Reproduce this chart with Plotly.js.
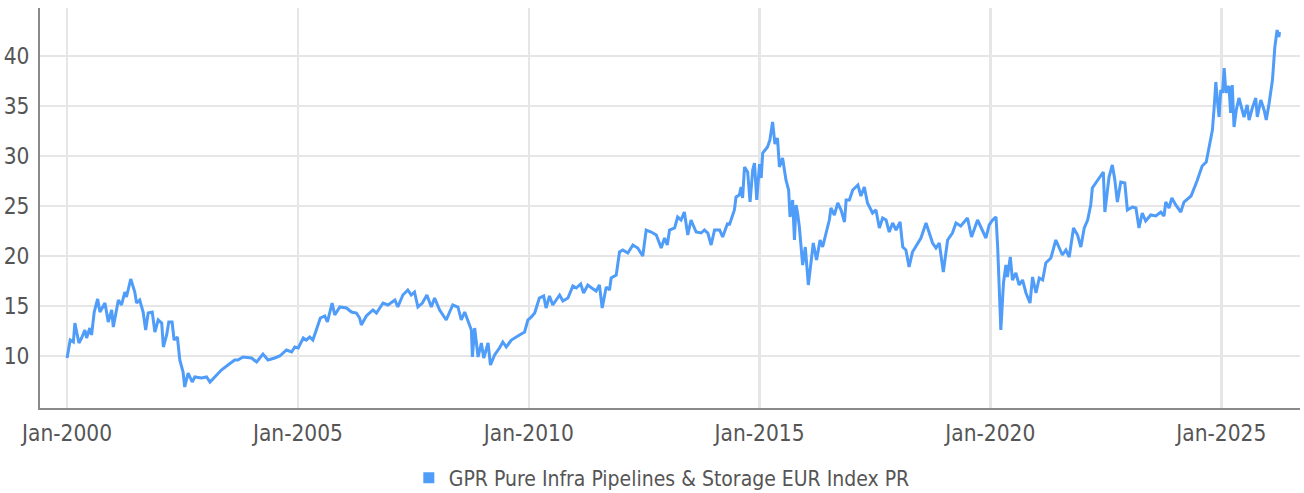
<!DOCTYPE html>
<html>
<head>
<meta charset="utf-8">
<script src="https://cdn.plot.ly/plotly-3.0.1.min.js"></script>
<style>
html,body{margin:0;padding:0;background:#fff;}
#chart{width:1304px;height:493px;}
</style>
</head>
<body>
<div id="chart"></div>
<script>
const seriesName = "GPR Pure Infra Pipelines & Storage EUR Index PR";

const dates = [
"2000-01-01","2000-01-26","2000-02-20","2000-03-03","2000-04-04","2000-04-25","2000-05-21","2000-06-04","2000-06-29","2000-07-13",
"2000-08-03","2000-08-30","2000-09-17","2000-10-27","2000-11-22","2000-12-19","2001-01-01","2001-01-15","2001-02-10","2001-03-07",
"2001-04-02","2001-04-15","2001-05-19","2001-06-20","2001-07-04","2001-07-29","2001-08-25","2001-09-14","2001-10-04","2001-11-05",
"2001-11-26","2001-12-22","2002-01-19","2002-02-01","2002-02-27","2002-03-16","2002-04-11","2002-04-27","2002-05-23","2002-06-11",
"2002-07-07","2002-07-20","2002-08-16","2002-09-17","2002-10-08","2002-11-30","2003-01-09","2003-02-05","2003-03-14","2003-05-06",
"2003-06-27","2003-08-19","2003-09-13","2003-10-24","2003-12-30","2004-02-09","2004-03-30","2004-05-09","2004-07-01","2004-08-10",
"2004-10-02","2004-11-12","2004-12-07","2005-01-03","2005-02-12","2005-03-08","2005-04-04","2005-04-29","2005-05-26","2005-06-27",
"2005-08-01","2005-08-22","2005-09-28","2005-10-19","2005-11-28","2006-01-20","2006-02-28","2006-04-08","2006-05-04","2006-05-17",
"2006-06-26","2006-08-17","2006-09-14","2006-11-05","2006-12-14","2007-02-07","2007-03-02","2007-04-11","2007-05-20","2007-06-16",
"2007-07-12","2007-08-08","2007-09-12","2007-10-18","2007-11-22","2007-12-18","2008-01-27","2008-03-19","2008-04-15","2008-05-10",
"2008-06-20","2008-07-16","2008-08-12","2008-09-07","2008-10-04","2008-10-12","2008-10-30","2008-11-26","2008-12-22","2009-01-10",
"2009-02-13","2009-03-04","2009-04-06","2009-05-14","2009-06-10","2009-07-07","2009-08-16","2009-10-20","2009-11-29","2009-12-25",
"2010-01-22","2010-02-17","2010-03-26","2010-04-29","2010-05-18","2010-06-14","2010-07-10","2010-09-02","2010-09-28","2010-11-07",
"2010-12-16","2011-01-12","2011-02-16","2011-03-11","2011-04-13","2011-05-14","2011-06-18","2011-07-14","2011-08-05","2011-09-06",
"2011-10-02","2011-10-15","2011-11-24","2011-12-20","2012-01-15","2012-02-24","2012-04-04","2012-05-12","2012-06-21","2012-07-18",
"2012-08-27","2012-10-06","2012-11-14","2012-12-10","2013-01-01","2013-01-19","2013-02-28","2013-03-24","2013-04-20","2013-05-16",
"2013-06-12","2013-07-08","2013-08-17","2013-09-26","2013-10-22","2013-11-18","2013-12-14","2014-01-10","2014-02-19","2014-03-15",
"2014-04-24","2014-05-07","2014-06-16","2014-06-29","2014-07-25","2014-08-08","2014-08-20","2014-09-04","2014-09-29","2014-10-18",
"2014-11-08","2014-11-22","2014-12-10","2015-01-01","2015-01-14","2015-01-26","2015-03-05","2015-03-24","2015-04-14","2015-05-03",
"2015-05-23","2015-06-07","2015-07-02","2015-07-29","2015-08-19","2015-08-30","2015-09-20","2015-10-04","2015-10-17","2015-10-29",
"2015-11-12","2015-12-08","2015-12-29","2016-01-22","2016-02-13","2016-03-01","2016-03-27","2016-04-24","2016-05-14","2016-06-10",
"2016-07-06","2016-07-19","2016-08-15","2016-09-11","2016-10-07","2016-11-03","2016-11-16","2016-12-12","2017-01-07","2017-02-17",
"2017-03-13","2017-04-09","2017-05-04","2017-06-13","2017-07-10","2017-08-06","2017-09-01","2017-09-28","2017-10-23","2017-11-19",
"2017-12-16","2018-01-17","2018-02-07","2018-03-04","2018-03-29","2018-04-25","2018-06-04","2018-07-01","2018-08-10","2018-09-05",
"2018-10-01","2018-10-28","2018-11-23","2018-12-25","2019-01-28","2019-03-07","2019-04-04","2019-05-12","2019-07-04","2019-08-05",
"2019-09-22","2019-11-27","2019-12-23","2020-01-19","2020-02-15","2020-02-28","2020-03-11","2020-03-24","2020-04-14","2020-05-03",
"2020-05-15","2020-06-07","2020-06-24","2020-07-21","2020-08-16","2020-09-12","2020-10-09","2020-11-10","2020-11-30","2020-12-27",
"2021-01-22","2021-02-18","2021-03-15","2021-04-24","2021-06-02","2021-06-28","2021-07-24","2021-08-21","2021-09-16","2021-10-20",
"2021-11-21","2021-12-17","2022-01-13","2022-02-09","2022-03-05","2022-03-18","2022-04-14","2022-05-23","2022-06-13","2022-06-25",
"2022-07-28","2022-08-23","2022-09-12","2022-10-02","2022-10-29","2022-11-30","2022-12-20","2023-01-29","2023-02-26","2023-03-22",
"2023-04-17","2023-05-14","2023-06-23","2023-08-02","2023-09-11","2023-10-06","2023-10-20","2023-11-15","2023-12-07","2024-01-07",
"2024-02-16","2024-03-12","2024-05-07","2024-06-23","2024-08-03","2024-09-04","2024-10-10","2024-10-23","2024-11-06","2024-11-19",
"2024-12-02","2024-12-15","2024-12-28","2025-01-11","2025-01-24","2025-02-07","2025-02-20","2025-03-03","2025-03-16","2025-03-29",
"2025-04-12","2025-04-30","2025-05-21","2025-06-12","2025-06-30","2025-07-25","2025-08-09","2025-09-04","2025-10-01","2025-10-13",
"2025-11-10","2025-12-06","2025-12-23","2026-01-15","2026-02-10","2026-03-01","2026-03-19","2026-04-02","2026-04-07"
];

const values = [
9.8,11.6,11.4,13.3,11.3,11.8,12.6,11.8,12.8,12.1,
14.4,15.7,14.4,15.3,13.4,14.6,12.9,13.8,15.6,15.1,
16.4,15.9,17.7,16.4,15.3,15.6,14.4,12.6,14.3,14.4,
12.4,13.6,13.3,10.9,12.1,13.4,13.4,11.6,11.9,9.6,
8.4,6.9,8.3,7.4,7.9,7.8,7.9,7.4,7.9,8.6,
9.1,9.6,9.6,9.9,9.8,9.4,10.2,9.6,9.8,10.0,
10.6,10.4,10.9,10.8,11.8,11.6,11.9,11.6,12.6,13.8,
14.0,13.4,15.3,14.1,14.9,14.8,14.4,14.3,13.8,13.1,
14.0,14.6,14.3,15.3,15.1,15.6,14.9,16.1,16.6,16.1,
16.4,14.9,15.3,16.1,14.9,15.8,14.6,13.6,14.4,15.1,
14.9,13.6,14.4,13.6,12.6,9.9,12.8,9.9,11.3,9.8,
11.3,9.1,10.1,10.8,11.4,10.9,11.6,12.1,12.4,13.6,
13.9,14.3,15.8,16.0,14.8,16.0,15.1,16.1,15.5,15.8,
17.0,16.8,17.2,16.3,17.1,16.8,16.5,17.1,14.8,16.9,
16.6,17.8,18.1,20.4,20.6,20.3,21.1,20.8,20.0,22.6,
22.4,22.1,20.8,21.8,21.1,22.6,22.8,23.9,23.6,24.4,
22.1,23.6,22.4,22.3,22.6,22.3,21.1,22.6,22.6,21.9,
23.3,23.1,24.6,25.9,26.1,26.9,25.8,28.9,28.4,25.4,
28.6,29.3,25.6,29.2,27.8,30.3,30.9,31.6,33.4,31.2,
31.8,28.9,29.8,27.6,26.6,23.9,25.6,21.6,25.1,24.3,
22.9,19.1,20.9,17.1,19.6,21.3,19.6,21.6,20.9,22.4,
23.6,24.8,24.1,25.3,24.6,23.4,25.6,25.6,26.6,27.1,
26.0,26.9,25.3,24.3,24.6,22.8,23.8,23.6,22.4,23.3,
22.6,23.4,20.9,20.6,18.9,20.4,21.3,21.8,23.3,22.3,
21.3,20.8,21.3,18.4,21.6,22.3,23.3,23.0,23.8,21.9,
23.6,21.8,23.1,23.6,23.9,20.9,16.9,12.6,17.3,19.1,
17.9,19.9,17.6,18.3,17.1,17.6,16.3,15.3,17.9,16.3,
17.8,17.6,19.3,19.8,21.6,20.9,20.1,20.6,19.9,22.8,
22.1,20.9,22.8,23.6,25.1,26.8,27.3,27.9,28.4,24.4,
27.9,29.1,27.6,25.4,27.4,27.3,24.6,24.9,24.8,22.8,
24.3,23.5,24.1,24.0,24.4,24.0,25.4,24.8,25.8,25.1,
24.4,25.4,26.0,27.5,29.0,29.4,31.8,32.6,34.9,37.4,
35.5,33.9,36.6,36.3,38.8,36.3,36.8,37.0,34.3,37.1,
32.9,34.6,35.8,34.6,33.9,35.1,33.6,34.8,35.8,33.9,
35.6,34.6,33.6,35.3,37.6,40.9,42.6,41.9,42.4
];

const xTickVals = ["2000-01-01","2005-01-01","2010-01-01","2015-01-01","2020-01-01","2025-01-01"];
const xTickText = ["Jan-2000","Jan-2005","Jan-2010","Jan-2015","Jan-2020","Jan-2025"];
const yTickVals = [10,15,20,25,30,35,40];
const yTickText = ["10","15","20","25","30","35","40"];

const FONT = "'DejaVu Sans Condensed', 'Liberation Sans Narrow', Roboto, sans-serif";
const LINE = "#4f9cf9";

const traces = [
  {
    type: "scatter", mode: "lines", x: dates, y: values, name: seriesName,
    line: {color: LINE, width: 3}, showlegend: false, hoverinfo: "x+y"
  },
  {
    type: "scatter", mode: "markers", x: [null], y: [null], name: seriesName,
    marker: {color: LINE, symbol: "square", size: 11}, showlegend: true
  }
];

const layout = {
  width: 1304, height: 493,
  margin: {l: 40, r: 4, t: 8, b: 85, autoexpand: false},
  paper_bgcolor: "#ffffff", plot_bgcolor: "#ffffff",
  font: {family: FONT, color: "#555555", size: 21},
  showlegend: true,
  legend: {
    orientation: "h", x: 0.4935, xanchor: "center", y: -0.175, yanchor: "middle",
    font: {family: FONT, size: 21, color: "#555555"}, itemwidth: 30
  },
  xaxis: {
    type: "date", range: ["1999-06-01", "2026-09-16"],
    tickmode: "array", tickvals: xTickVals, ticktext: xTickText,
    showgrid: true, gridcolor: "#e6e6e6", gridwidth: 2.5,
    showline: true, linecolor: "#8a8a8a", linewidth: 2,
    ticks: "", ticklabelstandoff: 4,
    tickfont: {family: FONT, size: 22.5, color: "#555555"},
    zeroline: false, fixedrange: true
  },
  yaxis: {
    range: [4.8, 44.8],
    tickmode: "array", tickvals: yTickVals, ticktext: yTickText,
    showgrid: true, gridcolor: "#e6e6e6", gridwidth: 2.5,
    showline: true, linecolor: "#8a8a8a", linewidth: 2,
    ticks: "", ticklabelstandoff: 4,
    tickfont: {family: FONT, size: 22.5, color: "#555555"},
    zeroline: false, fixedrange: true
  }
};

Plotly.newPlot("chart", traces, layout, {displayModeBar: false, staticPlot: true});
</script>
</body>
</html>
